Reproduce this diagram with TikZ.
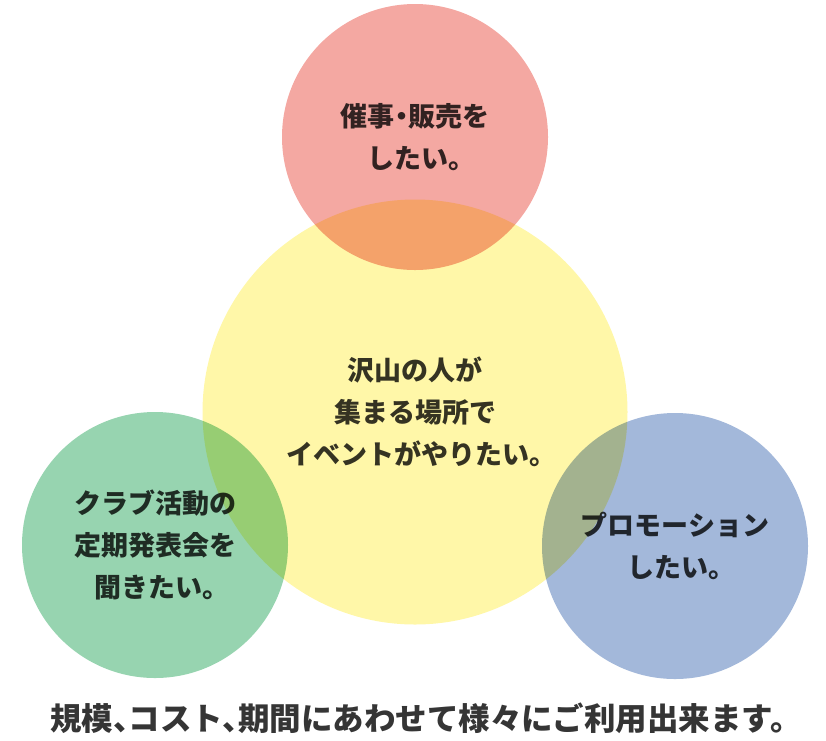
\documentclass[tikz,border=0pt]{standalone}
\usepackage{xcolor}
\usepackage{tikz}
\usepackage{fontspec}
\newfontfamily\jpfont{Noto Sans CJK JP}[RawFeature=+halt]
\definecolor{placeyellow}{HTML}{FFF7A8}
\definecolor{salered}{HTML}{F4A8A2}
\definecolor{clubgreen}{HTML}{97D4B0}
\definecolor{promoblue}{HTML}{A3B8DA}
\definecolor{textgray}{HTML}{353535}

\begin{document}
\begin{tikzpicture}[x=1pt,
				y=-1pt,
				bubble/.style={circle, inner sep=0pt, minimum size=266pt,
					blend mode=multiply, align=center, text=textgray,
					font=\jpfont\bfseries\fontsize{27}{42}\selectfont}]
				\useasboundingbox (0,0) rectangle (826,740);
				\node at (415,412) (place) [bubble, fill=placeyellow, minimum size=425pt] {沢山の人が\\集まる場所で\\イベントがやりたい。};
				\node at (415,137) (sale) [bubble, fill=salered] {催事・販売を\\したい。};
				\node at (155,545) (club) [bubble, fill=clubgreen] {クラブ活動の\\定期発表会を\\聞きたい。};
				\node at (675,546) (promo) [bubble, fill=promoblue] {プロモーション\\したい。};
				\node at (418,718) (note) [text=textgray, font=\jpfont\bfseries\fontsize{31.5}{31.5}\selectfont] {規模、コスト、期間にあわせて様々にご利用出来ます。};
			\end{tikzpicture}
\end{document}
